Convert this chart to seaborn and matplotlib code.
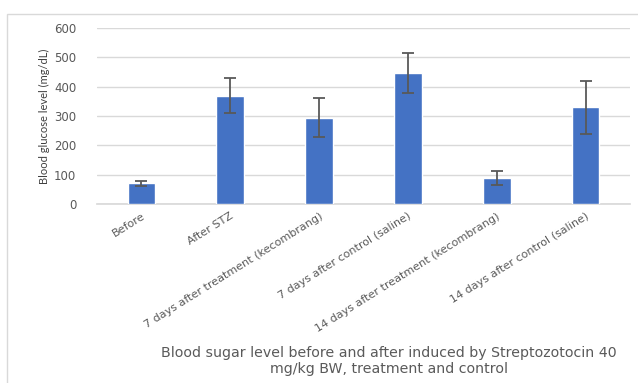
import matplotlib
matplotlib.use("Agg")
import matplotlib.pyplot as plt
import seaborn as sns
import pandas as pd
from matplotlib.patches import Rectangle

categories = ["Before", "After STZ", "7 days after treatment (kecombrang)",
              "7 days after control (saline)", "14 days after treatment (kecombrang)",
              "14 days after control (saline)"]
glucose = [71, 369, 294, 446, 89, 329]
errors = [9, 60, 67, 68, 25, 92]
yticks = [0, 100, 200, 300, 400, 500, 600]

sns.set_theme(style="white")
plt.rcParams['font.family'] = ['DejaVu Sans']

fig = plt.figure(figsize=(6.38, 3.83), dpi=100)
ax = fig.add_axes([97/638, 1-204/383, (630-97)/638, (204-28)/383])

df = pd.DataFrame({"cat": categories, "val": glucose})
sns.barplot(data=df, x="cat", y="val", color="#4472C4", saturation=1,
            width=0.31, errorbar=None, ax=ax, zorder=3)
ax.errorbar(x=list(range(len(categories))), y=glucose, yerr=errors, fmt="none",
            ecolor="#595959", elinewidth=1.3, capsize=4, capthick=1.3, zorder=4)

ax.set_xlim(-0.5, len(categories) - 0.5)
ax.set_ylim(0, 600)
ax.set_yticks(yticks)
ax.set_yticklabels([str(v) for v in yticks], fontsize=8.5, color="#595959")
ax.yaxis.grid(True, color="#D9D9D9", linewidth=1, zorder=0)
ax.set_axisbelow(True)
for s in ["top", "right", "left"]:
    ax.spines[s].set_visible(False)
ax.spines["bottom"].set_color("#D9D9D9")
ax.tick_params(axis="both", length=0, colors="#595959")
ax.tick_params(axis="y", pad=15)
ax.set_xlabel("")
ax.set_ylabel("Blood glucose level (mg/dL)", fontsize=8, color="#404040",
              labelpad=3, family=["Lato", "DejaVu Sans"])
ax.set_xticks(range(len(categories)))
ax.set_xticklabels(categories, rotation=32, ha="right", va="top",
                   rotation_mode="anchor", fontsize=8, color="#595959")
ax.tick_params(axis="x", pad=5)

fig.text(389/638, 1-361/383,
         "Blood sugar level before and after induced by Streptozotocin 40\nmg/kg BW, treatment and control",
         ha="center", va="center", fontsize=10.2, color="#5a5a5a",
         linespacing=1.15)

fig.patches.append(Rectangle((7/638, -0.1), 1.2, 1.1 - 14/383,
                             transform=fig.transFigure, fill=False,
                             edgecolor="#D9D9D9", linewidth=1))

fig.savefig("out.png", dpi=100)
